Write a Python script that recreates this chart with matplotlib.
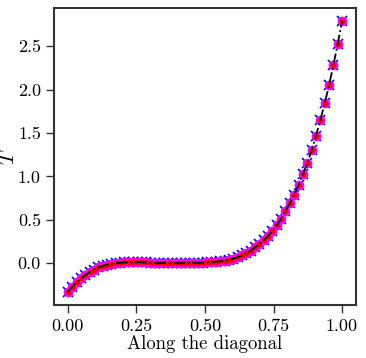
import numpy as np
import matplotlib
matplotlib.use("Agg")
import matplotlib.pyplot as plt

plt.rcParams['font.family'] = 'serif'
plt.rcParams['font.serif'] = ['cmr10']
plt.rcParams['mathtext.fontset'] = 'cm'
plt.rcParams['axes.formatter.use_mathtext'] = True

# values read along the diagonal, 64 samples from 0 to 1
x = np.linspace(0, 1, 64)
T = [-0.325, -0.27, -0.22, -0.175, -0.135, -0.10, -0.072, -0.048, -0.03, -0.016,
     -0.006, 0.001, 0.006, 0.009, 0.011, 0.012, 0.012, 0.011, 0.009, 0.007,
     0.005, 0.003, 0.002, 0.001, 0.001, 0.001, 0.002, 0.003, 0.004, 0.005,
     0.006, 0.008, 0.010, 0.013, 0.018, 0.024, 0.032, 0.042, 0.054, 0.070,
     0.092, 0.119, 0.146, 0.184, 0.222, 0.265, 0.315, 0.372, 0.438, 0.515,
     0.599, 0.691, 0.791, 0.902, 1.025, 1.152, 1.30, 1.467, 1.647, 1.840,
     2.047, 2.281, 2.523, 2.785]
T = np.array(T)

fig, ax = plt.subplots(figsize=(3.66, 3.58), dpi=100)
ax.plot(x, T, 'x', color='blue', ms=6.5, mew=1.2, zorder=2)
ax.plot(x, T, 'o', color='magenta', ms=7, mew=0, zorder=3)
ax.plot(x, T, 'o', color='red', ms=4, mew=0, zorder=4)
ax.plot(x, T, '-.', color='black', lw=1.3, zorder=5)

ax.set_xticks([0, 0.25, 0.5, 0.75, 1.0])
ax.set_xticklabels(['0.00', '0.25', '0.50', '0.75', '1.00'])
ax.set_yticks([0, 0.5, 1.0, 1.5, 2.0, 2.5])
ax.set_yticklabels(['0.0', '0.5', '1.0', '1.5', '2.0', '2.5'])
ax.tick_params(labelsize=13, length=6, width=1, color='#333333')
for s in ax.spines.values():
    s.set_linewidth(1.5)
    s.set_color('#333333')
ax.set_xlabel('Along the diagonal', fontsize=13.5, labelpad=1)
ax.set_ylabel('$T$', fontsize=15)
ax.yaxis.set_label_coords(-0.12, 0.5)

plt.subplots_adjust(left=0.148, right=0.972, top=0.978, bottom=0.148)
plt.savefig('out.png', dpi=100)
